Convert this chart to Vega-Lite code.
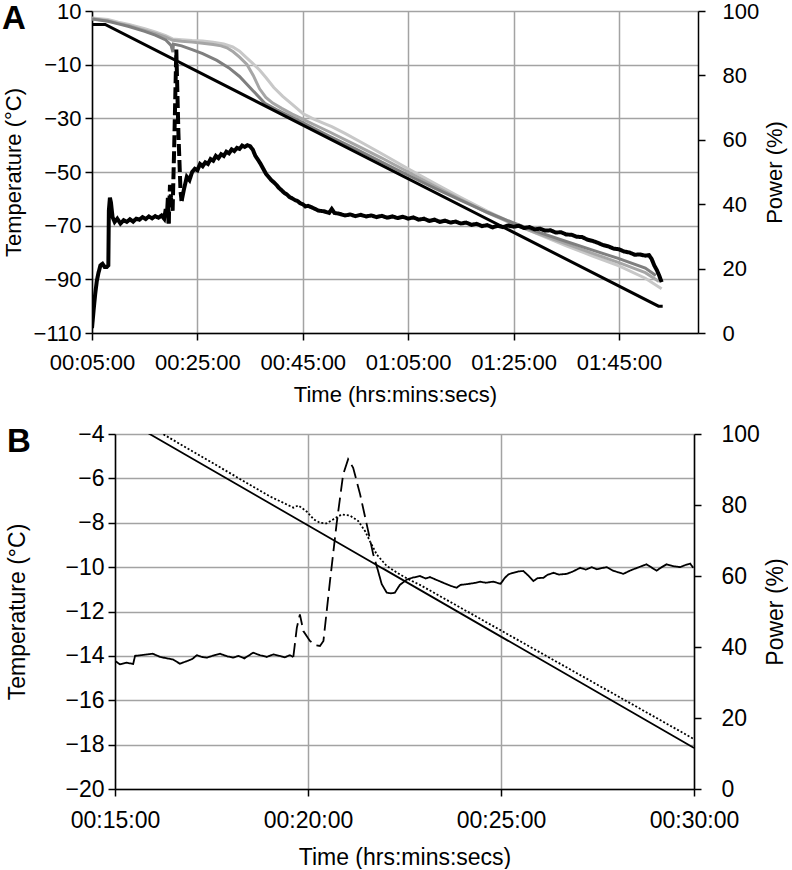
{
  "$schema": "https://vega.github.io/schema/vega-lite/v6.json",
  "padding": {"left": 2, "top": 0, "right": 0, "bottom": 0},
  "spacing": 18,
  "config": {
    "font": "Liberation Sans",
    "view": {"stroke": null},
    "axis": {
      "labelColor": "#000", "titleColor": "#000", "domainColor": "#000", "tickColor": "#000",
      "domainWidth": 1.5, "tickWidth": 1.5, "gridColor": "#a3a3a3", "gridWidth": 1.5,
      "titleFontWeight": "normal", "labelFont": "Liberation Sans", "titleFont": "Liberation Sans",
      "labelFlush": false, "labelOverlap": false
    }
  },
  "datasets": {
    "A_temp": [
      {"t":5,"T":7.4,"s":"p3"},{"t":8,"T":6.8,"s":"p3"},{"t":10,"T":5.8,"s":"p3"},{"t":12,"T":5.0,"s":"p3"},{"t":15,"T":3.4,"s":"p3"},{"t":17,"T":2.2,"s":"p3"},{"t":19,"T":0.8,"s":"p3"},{"t":20.3,"T":-0.4,"s":"p3"},{"t":22,"T":-0.7,"s":"p3"},{"t":24,"T":-1.0,"s":"p3"},{"t":26,"T":-1.2,"s":"p3"},{"t":28,"T":-1.6,"s":"p3"},{"t":30,"T":-2.3,"s":"p3"},{"t":31.7,"T":-3.4,"s":"p3"},{"t":33,"T":-5.0,"s":"p3"},{"t":34.2,"T":-7.2,"s":"p3"},{"t":35.5,"T":-9.5,"s":"p3"},{"t":36.8,"T":-12.0,"s":"p3"},{"t":38,"T":-14.8,"s":"p3"},{"t":39.5,"T":-18.5,"s":"p3"},{"t":41.2,"T":-21.8,"s":"p3"},{"t":43,"T":-24.8,"s":"p3"},{"t":45,"T":-28.2,"s":"p3"},{"t":47,"T":-30.2,"s":"p3"},{"t":49,"T":-31.9,"s":"p3"},{"t":50.5,"T":-33.1,"s":"p3"},{"t":53,"T":-35.6,"s":"p3"},{"t":56,"T":-38.8,"s":"p3"},{"t":60,"T":-43.2,"s":"p3"},{"t":65,"T":-48.8,"s":"p3"},{"t":70,"T":-54.2,"s":"p3"},{"t":75,"T":-59.5,"s":"p3"},{"t":80,"T":-64.6,"s":"p3"},{"t":85,"T":-69.2,"s":"p3"},{"t":90,"T":-73.4,"s":"p3"},{"t":95,"T":-77.5,"s":"p3"},{"t":100,"T":-81.3,"s":"p3"},{"t":105,"T":-85.0,"s":"p3"},{"t":110,"T":-89.6,"s":"p3"},{"t":113.1,"T":-93.5,"s":"p3"},
      {"t":5,"T":7.1,"s":"p2"},{"t":8,"T":6.4,"s":"p2"},{"t":10,"T":5.4,"s":"p2"},{"t":12,"T":4.5,"s":"p2"},{"t":15,"T":2.8,"s":"p2"},{"t":17,"T":1.6,"s":"p2"},{"t":19,"T":0.3,"s":"p2"},{"t":20.3,"T":-0.9,"s":"p2"},{"t":22,"T":-1.3,"s":"p2"},{"t":24,"T":-1.6,"s":"p2"},{"t":26,"T":-2.0,"s":"p2"},{"t":28,"T":-2.5,"s":"p2"},{"t":29.5,"T":-3.0,"s":"p2"},{"t":30.6,"T":-3.7,"s":"p2"},{"t":31.8,"T":-5.2,"s":"p2"},{"t":33,"T":-7.2,"s":"p2"},{"t":34.4,"T":-9.9,"s":"p2"},{"t":35.6,"T":-14.0,"s":"p2"},{"t":36.8,"T":-19.0,"s":"p2"},{"t":38,"T":-22.2,"s":"p2"},{"t":39.3,"T":-24.3,"s":"p2"},{"t":41,"T":-26.3,"s":"p2"},{"t":43,"T":-28.4,"s":"p2"},{"t":45,"T":-30.3,"s":"p2"},{"t":47,"T":-32.2,"s":"p2"},{"t":50,"T":-35.0,"s":"p2"},{"t":55,"T":-39.9,"s":"p2"},{"t":60,"T":-44.8,"s":"p2"},{"t":65,"T":-50.0,"s":"p2"},{"t":70,"T":-55.2,"s":"p2"},{"t":75,"T":-60.3,"s":"p2"},{"t":80,"T":-65.1,"s":"p2"},{"t":85,"T":-69.5,"s":"p2"},{"t":90,"T":-73.2,"s":"p2"},{"t":95,"T":-76.8,"s":"p2"},{"t":100,"T":-80.3,"s":"p2"},{"t":105,"T":-83.8,"s":"p2"},{"t":110,"T":-87.5,"s":"p2"},{"t":112.6,"T":-90.8,"s":"p2"},
      {"t":5,"T":7.0,"s":"p1"},{"t":8,"T":6.2,"s":"p1"},{"t":10,"T":5.2,"s":"p1"},{"t":12,"T":4.2,"s":"p1"},{"t":15,"T":2.4,"s":"p1"},{"t":17,"T":1.0,"s":"p1"},{"t":19,"T":-0.8,"s":"p1"},{"t":20.0,"T":-2.8,"s":"p1"},{"t":20.35,"T":-5.3,"s":"p1"},{"t":20.45,"T":-2.3,"s":"p1"},{"t":22,"T":-3.0,"s":"p1"},{"t":24,"T":-4.4,"s":"p1"},{"t":26,"T":-5.9,"s":"p1"},{"t":28.7,"T":-8.4,"s":"p1"},{"t":31,"T":-11.2,"s":"p1"},{"t":33,"T":-14.4,"s":"p1"},{"t":35.5,"T":-19.6,"s":"p1"},{"t":37.8,"T":-24.4,"s":"p1"},{"t":40,"T":-26.7,"s":"p1"},{"t":45,"T":-31.6,"s":"p1"},{"t":50,"T":-36.6,"s":"p1"},{"t":55,"T":-41.4,"s":"p1"},{"t":60,"T":-46.3,"s":"p1"},{"t":65,"T":-51.2,"s":"p1"},{"t":70,"T":-56.0,"s":"p1"},{"t":75,"T":-60.6,"s":"p1"},{"t":80,"T":-65.0,"s":"p1"},{"t":85,"T":-69.0,"s":"p1"},{"t":90,"T":-72.6,"s":"p1"},{"t":95,"T":-75.9,"s":"p1"},{"t":100,"T":-79.1,"s":"p1"},{"t":105,"T":-82.3,"s":"p1"},{"t":110,"T":-85.8,"s":"p1"},{"t":112,"T":-88.6,"s":"p1"},
      {"t":5,"T":5,"s":"shelf"},{"t":7.5,"T":5,"s":"shelf"},{"t":112.5,"T":-100,"s":"shelf"},{"t":113.3,"T":-100,"s":"shelf"}
    ],
    "A_power": [
      {"t":5.0,"P":1.5,"seg":"a"},{"t":5.3,"P":7,"seg":"a"},{"t":5.6,"P":12,"seg":"a"},{"t":5.9,"P":16,"seg":"a"},{"t":6.2,"P":18.5,"seg":"a"},{"t":6.6,"P":21,"seg":"a"},{"t":7.0,"P":21.5,"seg":"a"},{"t":7.4,"P":20.5,"seg":"a"},{"t":7.8,"P":20.5,"seg":"a"},{"t":8.1,"P":21,"seg":"a"},{"t":8.2,"P":38,"seg":"a"},{"t":8.4,"P":42,"seg":"a"},{"t":8.6,"P":40.5,"seg":"a"},{"t":8.9,"P":36,"seg":"a"},{"t":9.3,"P":34.5,"seg":"a"},{"t":9.8,"P":35.5,"seg":"a"},{"t":10.4,"P":34,"seg":"a"},{"t":11.0,"P":35,"seg":"a"},{"t":11.6,"P":34.5,"seg":"a"},{"t":12.2,"P":35.3,"seg":"a"},{"t":12.8,"P":34.6,"seg":"a"},{"t":13.4,"P":35.5,"seg":"a"},{"t":14.0,"P":35.2,"seg":"a"},{"t":14.6,"P":36,"seg":"a"},{"t":15.2,"P":35.4,"seg":"a"},{"t":15.8,"P":36.2,"seg":"a"},{"t":16.4,"P":35.6,"seg":"a"},{"t":17.0,"P":36.3,"seg":"a"},{"t":17.6,"P":35.8,"seg":"a"},{"t":18.2,"P":36.5,"seg":"a"},{"t":18.7,"P":35.5,"seg":"a"},{"t":19.0,"P":38.5,"seg":"a"},{"t":19.2,"P":36,"seg":"a"},{"t":19.4,"P":42,"seg":"a"},{"t":19.55,"P":34,"seg":"a"},
      {"t":19.55,"P":34,"seg":"b"},{"t":19.8,"P":46,"seg":"b"},{"t":20.0,"P":42,"seg":"b"},{"t":20.3,"P":38,"seg":"b"},{"t":20.6,"P":58,"seg":"b"},{"t":21.0,"P":88,"seg":"b"},{"t":21.4,"P":62,"seg":"b"},{"t":21.8,"P":44,"seg":"b"},{"t":22.0,"P":41,"seg":"b"},
      {"t":22.0,"P":41,"seg":"c"},{"t":22.5,"P":45,"seg":"c"},{"t":23.0,"P":48.5,"seg":"c"},{"t":23.5,"P":47.5,"seg":"c"},{"t":24.0,"P":50,"seg":"c"},{"t":24.5,"P":51,"seg":"c"},{"t":25.0,"P":50.5,"seg":"c"},{"t":25.5,"P":52.5,"seg":"c"},{"t":26.0,"P":51.8,"seg":"c"},{"t":26.5,"P":53,"seg":"c"},{"t":27.0,"P":52.5,"seg":"c"},{"t":27.5,"P":54,"seg":"c"},{"t":28.0,"P":53.5,"seg":"c"},{"t":28.5,"P":55,"seg":"c"},{"t":29.0,"P":54.3,"seg":"c"},{"t":29.5,"P":55.5,"seg":"c"},{"t":30.0,"P":55,"seg":"c"},{"t":30.5,"P":56.3,"seg":"c"},{"t":31.0,"P":55.8,"seg":"c"},{"t":31.5,"P":57,"seg":"c"},{"t":32.0,"P":56.5,"seg":"c"},{"t":32.5,"P":57.5,"seg":"c"},{"t":33.0,"P":57.2,"seg":"c"},{"t":33.5,"P":58.2,"seg":"c"},{"t":34.0,"P":57.8,"seg":"c"},{"t":34.5,"P":58.3,"seg":"c"},{"t":35.0,"P":58,"seg":"c"},{"t":35.5,"P":57,"seg":"c"},{"t":36.0,"P":55,"seg":"c"},{"t":36.5,"P":53.8,"seg":"c"},{"t":37.0,"P":52.5,"seg":"c"},{"t":37.5,"P":51,"seg":"c"},{"t":38.0,"P":49.5,"seg":"c"},{"t":38.5,"P":48.5,"seg":"c"},{"t":39.0,"P":47.5,"seg":"c"},{"t":39.5,"P":46.8,"seg":"c"},{"t":40.0,"P":46,"seg":"c"},{"t":40.5,"P":45,"seg":"c"},{"t":41.0,"P":44.3,"seg":"c"},{"t":41.5,"P":43.5,"seg":"c"},{"t":42.0,"P":43,"seg":"c"},{"t":42.5,"P":42.2,"seg":"c"},{"t":43.0,"P":41.8,"seg":"c"},{"t":43.5,"P":41.3,"seg":"c"},{"t":44.0,"P":41,"seg":"c"},{"t":44.5,"P":40.3,"seg":"c"},{"t":45.0,"P":40,"seg":"c"},{"t":45.5,"P":39.3,"seg":"c"},{"t":46.0,"P":39.5,"seg":"c"},{"t":47.0,"P":38.8,"seg":"c"},{"t":48.0,"P":38,"seg":"c"},{"t":49.0,"P":37.8,"seg":"c"},{"t":50.0,"P":37.3,"seg":"c"},{"t":50.5,"P":38.5,"seg":"c"},{"t":51.0,"P":37.3,"seg":"c"},{"t":52.0,"P":37,"seg":"c"},{"t":53.0,"P":36.5,"seg":"c"},{"t":54.0,"P":36.8,"seg":"c"},{"t":55.0,"P":36.3,"seg":"c"},{"t":56.0,"P":36.7,"seg":"c"},{"t":57.0,"P":36.2,"seg":"c"},{"t":58.0,"P":36.5,"seg":"c"},{"t":59.0,"P":36,"seg":"c"},{"t":60.0,"P":36.4,"seg":"c"},{"t":61.0,"P":35.8,"seg":"c"},{"t":62.0,"P":36.2,"seg":"c"},{"t":63.0,"P":35.7,"seg":"c"},{"t":64.0,"P":36.1,"seg":"c"},{"t":65.0,"P":35.5,"seg":"c"},{"t":66.0,"P":35.9,"seg":"c"},{"t":67.0,"P":35.2,"seg":"c"},{"t":68.0,"P":35.5,"seg":"c"},{"t":69.0,"P":34.8,"seg":"c"},{"t":70.0,"P":35.2,"seg":"c"},{"t":71.0,"P":34.5,"seg":"c"},{"t":72.0,"P":34.9,"seg":"c"},{"t":73.0,"P":34.3,"seg":"c"},{"t":74.0,"P":34.6,"seg":"c"},{"t":75.0,"P":34,"seg":"c"},{"t":76.0,"P":34.3,"seg":"c"},{"t":77.0,"P":33.6,"seg":"c"},{"t":78.0,"P":33.9,"seg":"c"},{"t":79.0,"P":33.2,"seg":"c"},{"t":80.0,"P":33.5,"seg":"c"},{"t":81.0,"P":32.8,"seg":"c"},{"t":82.0,"P":33.3,"seg":"c"},{"t":83.0,"P":32.9,"seg":"c"},{"t":84.0,"P":33.4,"seg":"c"},{"t":85.0,"P":33,"seg":"c"},{"t":86.0,"P":33.3,"seg":"c"},{"t":87.0,"P":32.6,"seg":"c"},{"t":88.0,"P":32.9,"seg":"c"},{"t":89.0,"P":32.2,"seg":"c"},{"t":90.0,"P":32.4,"seg":"c"},{"t":91.0,"P":31.8,"seg":"c"},{"t":92.0,"P":31.9,"seg":"c"},{"t":93.0,"P":31.2,"seg":"c"},{"t":94.0,"P":31.3,"seg":"c"},{"t":95.0,"P":30.6,"seg":"c"},{"t":96.0,"P":30.5,"seg":"c"},{"t":97.0,"P":29.9,"seg":"c"},{"t":98.0,"P":29.8,"seg":"c"},{"t":99.0,"P":29,"seg":"c"},{"t":100.0,"P":28.6,"seg":"c"},{"t":101.0,"P":28,"seg":"c"},{"t":102.0,"P":27.3,"seg":"c"},{"t":103.0,"P":26.9,"seg":"c"},{"t":104.0,"P":26.2,"seg":"c"},{"t":105.0,"P":26,"seg":"c"},{"t":106.0,"P":25.3,"seg":"c"},{"t":107.0,"P":25,"seg":"c"},{"t":108.0,"P":24.3,"seg":"c"},{"t":109.0,"P":24.4,"seg":"c"},{"t":110.0,"P":24,"seg":"c"},{"t":110.7,"P":24.2,"seg":"c"},{"t":111.2,"P":23,"seg":"c"},{"t":111.7,"P":21,"seg":"c"},{"t":112.2,"P":19.5,"seg":"c"},{"t":112.6,"P":18,"seg":"c"},{"t":113.1,"P":15.8,"seg":"c"}
    ],
    "B_temp": [
      {"t":15,"T":-3.1,"s":"shelf"},{"t":30,"T":-18.15,"s":"shelf"},
      {"t":15,"T":-2.75,"s":"product"},{"t":16.24,"T":-4.0,"s":"product"},{"t":19.0,"T":-6.8,"s":"product"},{"t":19.62,"T":-7.32,"s":"product"},{"t":19.75,"T":-7.22,"s":"product"},{"t":19.97,"T":-7.5,"s":"product"},{"t":20.15,"T":-7.85,"s":"product"},{"t":20.31,"T":-8.0,"s":"product"},{"t":20.48,"T":-8.03,"s":"product"},{"t":20.65,"T":-7.85,"s":"product"},{"t":20.87,"T":-7.63,"s":"product"},{"t":21.09,"T":-7.68,"s":"product"},{"t":21.3,"T":-7.92,"s":"product"},{"t":21.48,"T":-8.38,"s":"product"},{"t":21.61,"T":-8.85,"s":"product"},{"t":21.78,"T":-9.43,"s":"product"},{"t":22.04,"T":-9.95,"s":"product"},{"t":22.38,"T":-10.33,"s":"product"},{"t":22.64,"T":-10.58,"s":"product"},{"t":22.9,"T":-10.8,"s":"product"},{"t":30,"T":-17.75,"s":"product"}
    ],
    "B_power": [
      {"t":15,"P":36.1,"seg":"a"},{"t":15.13,"P":35.1,"seg":"a"},{"t":15.3,"P":35.6,"seg":"a"},{"t":15.47,"P":35.2,"seg":"a"},{"t":15.52,"P":37.5,"seg":"a"},{"t":15.75,"P":37.8,"seg":"a"},{"t":15.98,"P":38.1,"seg":"a"},{"t":16.17,"P":37.2,"seg":"a"},{"t":16.35,"P":36.8,"seg":"a"},{"t":16.5,"P":36.5,"seg":"a"},{"t":16.68,"P":35.3,"seg":"a"},{"t":16.86,"P":36,"seg":"a"},{"t":17.0,"P":36.6,"seg":"a"},{"t":17.12,"P":37.7,"seg":"a"},{"t":17.25,"P":37.2,"seg":"a"},{"t":17.38,"P":37,"seg":"a"},{"t":17.55,"P":37.6,"seg":"a"},{"t":17.72,"P":38.1,"seg":"a"},{"t":17.9,"P":37.4,"seg":"a"},{"t":18.06,"P":37,"seg":"a"},{"t":18.2,"P":37.5,"seg":"a"},{"t":18.35,"P":36.8,"seg":"a"},{"t":18.58,"P":38.4,"seg":"a"},{"t":18.75,"P":37.7,"seg":"a"},{"t":18.93,"P":37.2,"seg":"a"},{"t":19.1,"P":37.9,"seg":"a"},{"t":19.27,"P":37.5,"seg":"a"},{"t":19.4,"P":37.1,"seg":"a"},{"t":19.53,"P":37.7,"seg":"a"},{"t":19.62,"P":37.2,"seg":"a"},
      {"t":19.62,"P":37.2,"seg":"b"},{"t":19.71,"P":45.4,"seg":"b"},{"t":19.79,"P":49.2,"seg":"b"},{"t":19.88,"P":44.5,"seg":"b"},{"t":20.05,"P":41.7,"seg":"b"},{"t":20.2,"P":40.5,"seg":"b"},{"t":20.31,"P":40.3,"seg":"b"},{"t":20.4,"P":41.7,"seg":"b"},{"t":20.57,"P":58.6,"seg":"b"},{"t":20.74,"P":74.6,"seg":"b"},{"t":20.91,"P":88.6,"seg":"b"},{"t":21.04,"P":92.9,"seg":"b"},{"t":21.17,"P":90.5,"seg":"b"},{"t":21.35,"P":83,"seg":"b"},{"t":21.52,"P":74.6,"seg":"b"},{"t":21.69,"P":66.1,"seg":"b"},{"t":21.8,"P":62,"seg":"b"},
      {"t":21.8,"P":62,"seg":"c"},{"t":21.91,"P":57.7,"seg":"c"},{"t":22.04,"P":55.3,"seg":"c"},{"t":22.15,"P":55.1,"seg":"c"},{"t":22.25,"P":55.3,"seg":"c"},{"t":22.38,"P":57.5,"seg":"c"},{"t":22.56,"P":59.0,"seg":"c"},{"t":22.7,"P":59.5,"seg":"c"},{"t":22.9,"P":60,"seg":"c"},{"t":23.05,"P":59.3,"seg":"c"},{"t":23.16,"P":59.7,"seg":"c"},{"t":23.35,"P":58.8,"seg":"c"},{"t":23.59,"P":57.7,"seg":"c"},{"t":23.7,"P":57.2,"seg":"c"},{"t":23.85,"P":56.7,"seg":"c"},{"t":23.95,"P":57.5,"seg":"c"},{"t":24.11,"P":57.7,"seg":"c"},{"t":24.3,"P":58.0,"seg":"c"},{"t":24.46,"P":58.4,"seg":"c"},{"t":24.6,"P":58.1,"seg":"c"},{"t":24.8,"P":58.4,"seg":"c"},{"t":24.99,"P":57.8,"seg":"c"},{"t":25.1,"P":59.5,"seg":"c"},{"t":25.2,"P":60.5,"seg":"c"},{"t":25.32,"P":60.9,"seg":"c"},{"t":25.45,"P":61.3,"seg":"c"},{"t":25.58,"P":61.4,"seg":"c"},{"t":25.7,"P":60.2,"seg":"c"},{"t":25.84,"P":58.6,"seg":"c"},{"t":25.95,"P":59.4,"seg":"c"},{"t":26.1,"P":59.5,"seg":"c"},{"t":26.2,"P":60.3,"seg":"c"},{"t":26.36,"P":60.9,"seg":"c"},{"t":26.5,"P":60.4,"seg":"c"},{"t":26.7,"P":60.6,"seg":"c"},{"t":26.85,"P":61.2,"seg":"c"},{"t":27.05,"P":62.3,"seg":"c"},{"t":27.2,"P":61.8,"seg":"c"},{"t":27.35,"P":62.5,"seg":"c"},{"t":27.48,"P":61.9,"seg":"c"},{"t":27.6,"P":62.2,"seg":"c"},{"t":27.74,"P":62.5,"seg":"c"},{"t":27.9,"P":61.5,"seg":"c"},{"t":28.05,"P":61,"seg":"c"},{"t":28.17,"P":60.6,"seg":"c"},{"t":28.3,"P":61.3,"seg":"c"},{"t":28.43,"P":61.9,"seg":"c"},{"t":28.6,"P":62.6,"seg":"c"},{"t":28.77,"P":63.3,"seg":"c"},{"t":28.9,"P":62.4,"seg":"c"},{"t":29.03,"P":61.5,"seg":"c"},{"t":29.15,"P":62.4,"seg":"c"},{"t":29.29,"P":63.3,"seg":"c"},{"t":29.45,"P":62.8,"seg":"c"},{"t":29.64,"P":62.5,"seg":"c"},{"t":29.78,"P":63.1,"seg":"c"},{"t":29.9,"P":63.5,"seg":"c"},{"t":29.98,"P":62.3,"seg":"c"}
    ]
  },
  "vconcat": [
    {
      "width": 606,
      "height": 322,
      "title": {"text": "A", "anchor": "start", "frame": "bounds", "fontSize": 33, "fontWeight": "bold", "baseline": "top", "offset": -36, "color": "#000"},
      "layer": [
        {
          "data": {"name": "A_temp"},
          "mark": {"type": "line", "strokeWidth": 3, "clip": true},
          "encoding": {
            "x": {"field": "t", "type": "quantitative", "scale": {"domain": [5, 120], "nice": false, "zero": false},
              "axis": {"values": [5, 25, 45, 65, 85, 105], "labelExpr": "'0' + floor(datum.value / 60) + ':' + (datum.value % 60 < 10 ? '0' : '') + (datum.value % 60) + ':00'", "title": "Time (hrs:mins:secs)", "grid": true, "tickSize": 7, "labelFontSize": 22, "titleFontSize": 22, "labelPadding": 12, "titlePadding": 11}},
            "y": {"field": "T", "type": "quantitative", "scale": {"domain": [-110, 10], "nice": false, "zero": false},
              "axis": {"values": [-110, -90, -70, -50, -30, -10, 10], "title": "Temperature (°C)", "grid": true, "tickSize": 7, "labelFontSize": 22, "titleFontSize": 22, "labelPadding": 4, "titlePadding": 8}},
            "color": {"field": "s", "type": "nominal", "scale": {"domain": ["p3", "p2", "p1", "shelf"], "range": ["#c8c8c8", "#a6a6a6", "#7f7f7f", "#000000"]}, "legend": null}
          }
        },
        {
          "data": {"name": "A_power"},
          "mark": {"type": "line", "strokeWidth": 4, "color": "#000", "clip": true},
          "encoding": {
            "x": {"field": "t", "type": "quantitative"},
            "y": {"field": "P", "type": "quantitative", "scale": {"domain": [0, 100], "nice": false},
              "axis": {"orient": "right", "values": [0, 20, 40, 60, 80, 100], "title": "Power (%)", "grid": false, "tickSize": 7, "labelFontSize": 22, "titleFontSize": 22, "labelPadding": 17, "titlePadding": 6, "titleAngle": -90, "titleBaseline": "top"}},
            "strokeDash": {"field": "seg", "type": "nominal", "scale": {"domain": ["a", "b", "c"], "range": [[1, 0], [12, 4], [1, 0]]}, "legend": null}
          }
        }
      ],
      "resolve": {"scale": {"y": "independent", "strokeDash": "independent"}}
    },
    {
      "bounds": "flush",
      "spacing": 22,
      "hconcat": [
        {
          "width": 1,
          "height": 1,
          "data": {"values": []},
          "mark": {"type": "point", "opacity": 0}
        },
        {
          "width": 579,
          "height": 355,
          "title": {"text": "B", "anchor": "start", "frame": "bounds", "fontSize": 33, "fontWeight": "bold", "baseline": "top", "offset": -36, "color": "#000"},
          "layer": [
            {
              "data": {"name": "B_temp"},
              "mark": {"type": "line", "strokeWidth": 1.8, "color": "#000", "clip": true},
              "encoding": {
                "x": {"field": "t", "type": "quantitative", "scale": {"domain": [15, 30], "nice": false, "zero": false},
                  "axis": {"values": [15, 20, 25, 30], "labelExpr": "'0' + floor(datum.value / 60) + ':' + (datum.value % 60 < 10 ? '0' : '') + (datum.value % 60) + ':00'", "title": "Time (hrs:mins:secs)", "grid": true, "tickSize": 7, "labelFontSize": 23, "titleFontSize": 23, "labelPadding": 13, "titlePadding": 14}},
                "y": {"field": "T", "type": "quantitative", "scale": {"domain": [-20, -4], "nice": false, "zero": false},
                  "axis": {"values": [-20, -18, -16, -14, -12, -10, -8, -6, -4], "title": "Temperature (°C)", "grid": true, "tickSize": 7, "labelFontSize": 23, "titleFontSize": 23, "labelPadding": 4, "titlePadding": 35}},
                "strokeDash": {"field": "s", "type": "nominal", "scale": {"domain": ["shelf", "product"], "range": [[1, 0], [2, 2]]}, "legend": null}
              }
            },
            {
              "data": {"name": "B_power"},
              "mark": {"type": "line", "strokeWidth": 1.8, "color": "#000", "clip": true},
              "encoding": {
                "x": {"field": "t", "type": "quantitative"},
                "y": {"field": "P", "type": "quantitative", "scale": {"domain": [0, 100], "nice": false},
                  "axis": {"orient": "right", "values": [0, 20, 40, 60, 80, 100], "title": "Power (%)", "grid": false, "tickSize": 7, "labelFontSize": 23, "titleFontSize": 23, "labelPadding": 20, "titlePadding": 5, "titleAngle": -90, "titleBaseline": "top"}},
                "strokeDash": {"field": "seg", "type": "nominal", "scale": {"domain": ["a", "b", "c"], "range": [[1, 0], [14, 6], [1, 0]]}, "legend": null}
              }
            }
          ],
          "resolve": {"scale": {"y": "independent", "strokeDash": "independent"}}
        }
      ]
    }
  ]
}
